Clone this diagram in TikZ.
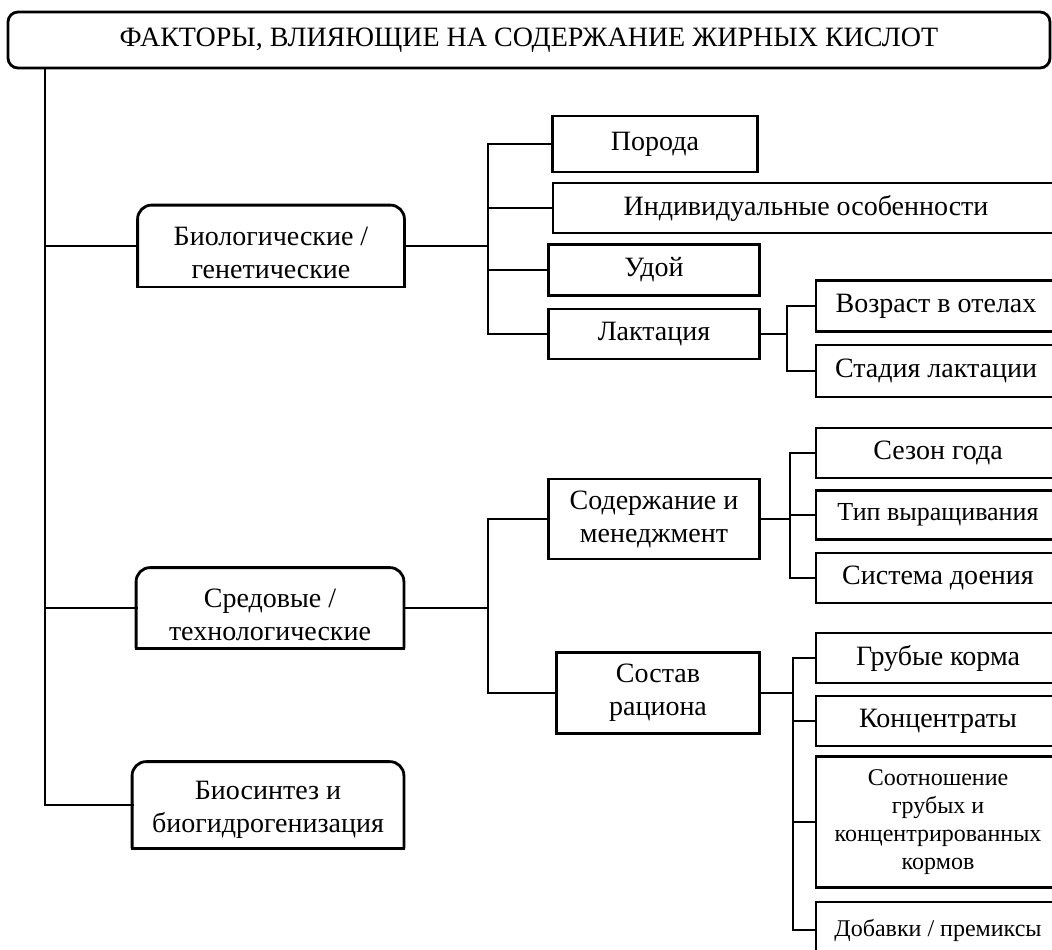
\documentclass[tikz,border=0pt]{standalone}
\usepackage{fontspec}
\setmainfont{Liberation Serif}
\usetikzlibrary{positioning, calc}
\tikzset{
  frame/.style={draw=black, line width=1.4pt},
  leaf/.style={
    rectangle, frame, align=center, inner sep=2pt,
    font=\fontsize{14}{16.5}\selectfont
  },
  group/.style={rectangle, draw=none, inner sep=0pt},
  grouptext/.style={align=center, inner sep=2pt, yshift=-3.5pt,
    font=\fontsize{14}{16.5}\selectfont},
  link/.style={line width=1.4pt, line cap=rect},
  size/.style 2 args={minimum width=#1, minimum height=#2}
}

\begin{document}
\begin{tikzpicture}[x=0.5pt, y=-0.5pt]
    \useasboundingbox (0,0) rectangle (1052,949);

    % Title
    \node[leaf, rounded corners=5pt, size={521pt}{28pt}] (title) at (529,40)
      {ФАКТОРЫ, ВЛИЯЮЩИЕ НА СОДЕРЖАНИЕ ЖИРНЫХ КИСЛОТ};

    % Factor groups
    \node[group, size={133pt}{40.5pt},
      label={[grouptext]center:{Биологические /\\генетические}}] (bio) at (271,246) {};
    \node[group, size={133.5pt}{40pt},
      label={[grouptext]center:{Средовые /\\технологические}}] (sred) at (270,608) {};
    \node[group, size={135.5pt}{43pt},
      label={[grouptext, yshift=1pt]center:{Биосинтез и\\биогидрогенизация}}] (bios) at (268,805) {};
    \foreach \n in {bio,sred,bios} {
      \draw[frame, rounded corners=7pt] (\n.south west) -- (\n.north west) -- (\n.north east) -- (\n.south east);
      \draw[frame, line cap=rect] (\n.south west) -- (\n.south east);
    }

    % Biological
    \node[leaf, size={102.5pt}{28pt}] (porod) at (655,144) {Порода};
    \node[leaf, size={253pt}{25pt}] (indiv) at (806,208) {Индивидуальные особенности};
    \node[leaf, size={105.5pt}{25.5pt}] (udoi) at (654,270) {Удой};
    \node[leaf, size={105.5pt}{25pt}] (lakt) at (654,334) {Лактация};
    \node[leaf, size={120pt}{25.5pt}] (vozr) at (936,306) {Возраст в отелах};
    \node[leaf, size={120pt}{26pt}] (stad) at (936,371) {Стадия лактации};

    % Environmental
    \node[leaf, size={105.5pt}{40pt}] (sod) at (654,519) {Содержание и\\менеджмент};
    \node[leaf, size={101.5pt}{40.5pt}] (sost) at (658,693) {Состав\\рациона};
    \node[leaf, size={122pt}{25pt}] (sezon) at (938,453) {Сезон года};
    \node[leaf, size={122pt}{24.5pt}, font=\fontsize{13}{15}\selectfont] (tip) at (938,515) {Тип выращивания};
    \node[leaf, size={122pt}{25pt}] (sist) at (938,578) {Система доения};
    \node[leaf, size={122pt}{25pt}] (grub) at (938,658) {Грубые корма};
    \node[leaf, size={122pt}{25pt}] (konc) at (938,721) {Концентраты};
    \node[leaf, size={122pt}{65.5pt}, font=\fontsize{12}{14}\selectfont] (sootn) at (938,822)
      {Соотношение\\грубых и\\концентрированных\\кормов};
    \node[leaf, size={122pt}{28pt}, font=\fontsize{12}{14}\selectfont] (dobav) at (938,930) {Добавки / премиксы};

    % Spine
    \coordinate (spine) at (45,68);
    \draw[link] (spine) |- (bios.west);
    \draw[link] (bio.west) -- (bio.west -| spine);
    \draw[link] (sred.west) -- (sred.west -| spine);

    % Buses
    \coordinate (bus1) at (488,0);
    \coordinate (bus2) at (787,0);
    \coordinate (bus3) at (790,0);
    \coordinate (bus4) at (793,0);

    \draw[link] (bio.east) -- (bio.east -| bus1);
    \draw[link] (porod.west -| bus1) -- (lakt.west -| bus1);
    \foreach \n in {porod,indiv,udoi,lakt}
      \draw[link] (\n.west) -- (\n.west -| bus1);

    \draw[link] (lakt.east) -- (lakt.east -| bus2);
    \draw[link] (vozr.west -| bus2) -- (stad.west -| bus2);
    \foreach \n in {vozr,stad}
      \draw[link] (\n.west) -- (\n.west -| bus2);

    \draw[link] (sred.east) -- (sred.east -| bus1);
    \draw[link] (sod.west -| bus1) -- (sost.west -| bus1);
    \foreach \n in {sod,sost}
      \draw[link] (\n.west) -- (\n.west -| bus1);

    \draw[link] (sod.east) -- (sod.east -| bus3);
    \draw[link] (sezon.west -| bus3) -- (sist.west -| bus3);
    \foreach \n in {sezon,tip,sist}
      \draw[link] (\n.west) -- (\n.west -| bus3);

    \draw[link] (sost.east) -- (sost.east -| bus4);
    \draw[link] (grub.west -| bus4) -- (dobav.west -| bus4);
    \foreach \n in {grub,konc,sootn,dobav}
      \draw[link] (\n.west) -- (\n.west -| bus4);

\end{tikzpicture}
\end{document}
